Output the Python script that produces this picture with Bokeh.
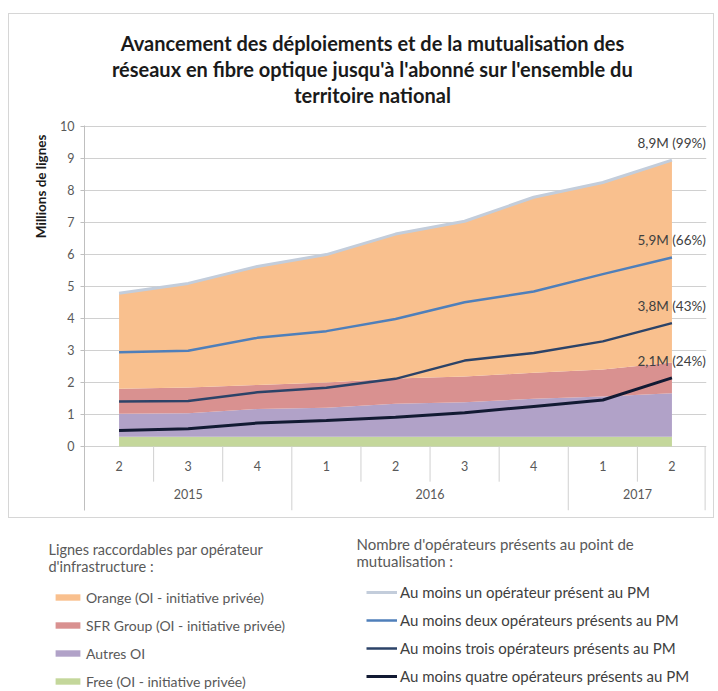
from bokeh.plotting import figure
from bokeh.layouts import column
from bokeh.models import (FactorRange, Range1d, FixedTicker, Label, Title,
                          Legend, LegendItem, ColumnDataSource)
from bokeh.core.properties import value
from bokeh.embed import file_html
from bokeh.resources import INLINE

# ---------------- data ----------------
years = ["2015", "2015", "2015", "2016", "2016", "2016", "2016", "2017", "2017"]
quarters = ["2", "3", "4", "1", "2", "3", "4", "1", "2"]

# stacked areas (millions de lignes raccordables)
free = [0.30, 0.30, 0.30, 0.30, 0.30, 0.30, 0.30, 0.30, 0.30]
autres = [0.72, 0.74, 0.87, 0.91, 1.03, 1.08, 1.19, 1.26, 1.36]
sfr = [0.78, 0.80, 0.75, 0.79, 0.79, 0.80, 0.81, 0.84, 0.96]
orange = [2.98, 3.25, 3.70, 3.99, 4.51, 4.85, 5.48, 5.84, 6.32]

# lines: number of operators present at the PM
un = [4.78, 5.09, 5.62, 5.99, 6.63, 7.03, 7.78, 8.24, 8.94]
deux = [2.94, 2.99, 3.39, 3.60, 3.98, 4.50, 4.84, 5.38, 5.90]
trois = [1.40, 1.42, 1.69, 1.83, 2.11, 2.68, 2.92, 3.28, 3.85]
quatre = [0.50, 0.55, 0.73, 0.81, 0.91, 1.05, 1.25, 1.45, 2.14]

end_labels = ["8,9M (99%)", "5,9M (66%)", "3,8M (43%)", "2,1M (24%)"]

area_names = ["Free (OI - initiative privée)", "Autres OI",
              "SFR Group (OI - initiative privée)", "Orange (OI - initiative privée)"]
line_names = ["Au moins un opérateur présent au PM",
              "Au moins deux opérateurs présents au PM",
              "Au moins trois opérateurs présents au PM",
              "Au moins quatre opérateurs présents au PM"]

y_ticks = [0, 1, 2, 3, 4, 5, 6, 7, 8, 9, 10]

title_lines = ["Avancement des déploiements et de la mutualisation des",
               "réseaux en fibre optique jusqu'à l'abonné sur l'ensemble du",
               "territoire national"]
y_label = "Millions de lignes"
legend_left_title = ["Lignes raccordables par opérateur", "d'infrastructure :"]
legend_right_title = ["Nombre d'opérateurs présents au point de", "mutualisation :"]

# ---------------- styles ----------------
C_FREE = "#C4D79B"
C_AUTRES = "#B1A2C8"
C_SFR = "#D99190"
C_ORANGE = "#F9C08E"
C_UN = "#C3CDDB"
C_DEUX = "#4F7FBA"
C_TROIS = "#2C4368"
C_QUATRE = "#121A33"
AREA_COLORS = [C_FREE, C_AUTRES, C_SFR, C_ORANGE]
LINE_COLORS = [C_UN, C_DEUX, C_TROIS, C_QUATRE]
LINE_WIDTHS = [3, 2.5, 2.5, 3]
GRID = "#d0d0d0"
TXT = "#595959"
FONT = "Lato"

common_fig = dict(output_backend="svg", toolbar_location=None, frame_align=False,
                  outline_line_color=None, background_fill_color="white",
                  border_fill_color="white")

factors = list(zip(years, quarters))
src = ColumnDataSource(dict(x=factors, free=free, autres=autres, sfr=sfr, orange=orange,
                            un=un, deux=deux, trois=trois, quatre=quatre))

# ================= title strip (inside the box) =================
tf = figure(width=704, height=103, x_range=Range1d(9, 713), y_range=Range1d(117, 14),
            x_axis_location=None, y_axis_location=None, min_border=0,
            min_border_left=0, min_border_right=0, min_border_top=0, min_border_bottom=0,
            **common_fig)
tf.xgrid.visible = False
tf.ygrid.visible = False
for line, yy in zip(title_lines, [42, 68, 94]):
    tf.add_layout(Label(x=372, y=yy, text=line, text_align="center", text_baseline="middle",
                        text_font=FONT, text_font_size="20px", text_font_style="bold",
                        text_color="#1a1a1a"))

# ================= chart =================
p = figure(width=704, height=400,
           x_range=FactorRange(factors=factors, factor_padding=0, group_padding=0,
                               subgroup_padding=0, range_padding=0),
           y_range=Range1d(-2.0, 10.02), x_axis_location=None,
           min_border_left=75, min_border_right=7, min_border_top=8, min_border_bottom=7,
           **common_fig)

ticker = FixedTicker(ticks=y_ticks)
p.yaxis.ticker = ticker
p.ygrid.ticker = ticker
p.xgrid.visible = False
p.ygrid.grid_line_color = GRID
p.yaxis.axis_line_color = "#bfbfbf"
p.yaxis.major_tick_line_color = "#bfbfbf"
p.yaxis.major_tick_out = 4
p.yaxis.major_tick_in = 0
p.yaxis.minor_tick_line_color = None
p.yaxis.major_label_standoff = 6
p.yaxis.major_label_text_font = FONT
p.yaxis.major_label_text_font_size = "12.5px"
p.yaxis.major_label_text_color = TXT

p.add_layout(Title(text=y_label, align="right", offset=9, standoff=17,
                   text_font=FONT, text_font_size="13.5px", text_font_style="bold",
                   text_color="#1a1a1a"), "left")

areas = p.varea_stack(["free", "autres", "sfr", "orange"], x="x",
                      color=AREA_COLORS, source=src)

lines = []
for name, col, w in zip(["un", "deux", "trois", "quatre"], LINE_COLORS, LINE_WIDTHS):
    lines.append(p.line("x", name, source=src, line_color=col, line_width=w))

# end-of-series labels
last = factors[-1]
p.text(x=[last] * 4, y=[un[-1], deux[-1], trois[-1], quatre[-1]], text=end_labels,
       x_offset=34, y_offset=-17, text_align="right", text_baseline="middle",
       text_font=value(FONT), text_font_size="13.5px", text_color="#404040")

# category axis (quarters / years) with separators
p.text(x=factors, y=[-0.6] * len(factors), text=quarters, text_align="center",
       text_baseline="middle", text_font=value(FONT), text_font_size="12.5px", text_color=TXT)
year_groups = list(dict.fromkeys(years))
p.text(x=year_groups, y=[-1.5] * len(year_groups), text=year_groups, text_align="center",
       text_baseline="middle", text_font=value(FONT), text_font_size="12.5px", text_color=TXT)

x0, y1 = [], []
for i, (yr, q) in enumerate(factors):
    if i == 0:
        continue
    x0.append((yr, q, -0.5))
    y1.append(-2.0 if years[i] != years[i - 1] else -1.1)
x0.append((last[0], last[1], 0.48))
y1.append(-2.0)
p.segment(x0=x0, y0=[0] * len(x0), x1=x0, y1=y1, line_color=GRID, line_width=1)

box = column(tf, p, spacing=0, margin=(13, 0, 0, 8),
             styles={"border": "1px solid #d6d6d6"})

# ================= legend panel (below the box) =================
LH = 173
lf = figure(width=718, height=LH, x_range=Range1d(0, 718), y_range=Range1d(691, 691 - LH),
            x_axis_location=None, y_axis_location=None, min_border=0,
            min_border_left=0, min_border_right=0, min_border_top=0, min_border_bottom=0,
            **common_fig)
lf.xgrid.visible = False
lf.ygrid.visible = False

# swatch renderers for the legends (styled like the chart series, kept off-view)
sw_areas = [lf.varea(x=[-50, -40], y1=[0, 0], y2=[1, 1], fill_color=c) for c in AREA_COLORS]
sw_lines = [lf.line(x=[-50, -40], y=[0, 0], line_color=c, line_width=w)
            for c, w in zip(LINE_COLORS, LINE_WIDTHS)]

for line, yy in zip(legend_left_title, [549, 566]):
    lf.add_layout(Label(x=48, y=yy, text=line, text_align="left", text_baseline="middle",
                        text_font=FONT, text_font_size="14.5px", text_color=TXT))
for line, yy in zip(legend_right_title, [543, 560]):
    lf.add_layout(Label(x=356, y=yy, text=line, text_align="left", text_baseline="middle",
                        text_font=FONT, text_font_size="15px", text_color=TXT))

leg_common = dict(glyph_width=31, glyph_height=8, label_height=18, spacing=10,
                  padding=0, margin=0, border_line_color=None, background_fill_alpha=0,
                  label_standoff=3, label_text_font=FONT)

left_items = [LegendItem(label=area_names[i], renderers=[sw_areas[i]]) for i in [3, 2, 1, 0]]
lf.add_layout(Legend(items=left_items, location=(52, 1), label_text_color=TXT,
                     label_text_font_size="14px", **leg_common))

right_items = [LegendItem(label=n, renderers=[r]) for n, r in zip(line_names, sw_lines)]
lf.add_layout(Legend(items=right_items, location=(366, 6), label_text_color="#404040",
                     label_text_font_size="15px", **leg_common))

layout = column(box, lf, spacing=0)
open("out.html", "w").write(file_html(layout, INLINE))
